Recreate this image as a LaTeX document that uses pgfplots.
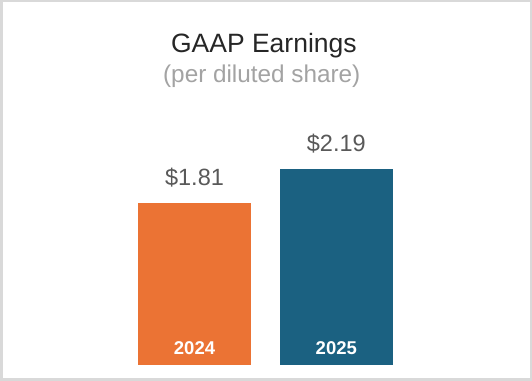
\documentclass[border=0pt]{standalone}
\usepackage{pgfplots}
\pgfplotsset{compat=1.18}
\usepackage{fontspec}
\setmainfont{Liberation Sans}
\definecolor{barorange}{HTML}{EB7334}
\definecolor{barblue}{HTML}{1B6181}
\definecolor{valgray}{HTML}{595959}
\definecolor{subgray}{HTML}{A3A3A3}
\definecolor{titleblack}{HTML}{262626}
\definecolor{framegray}{HTML}{D9D9D9}
\begin{document}
\begin{tikzpicture}
\begin{axis}[
  name=ax,
  scale only axis,
  width=532pt, height=381pt,
  xmin=-1.3717, xmax=2.380,
  ymin=-0.182, ymax=4.075,
  hide axis,
  clip=false,
  ybar,
  bar width=113pt,
  nodes near coords={\$\pgfmathprintnumber[fixed,fixed zerofill,precision=2,assume math mode=true]{\pgfplotspointmeta}},
  every node near coord/.append style={anchor=base, yshift=17pt, text=valgray, font=\fontsize{23.5}{28}\selectfont},
]
\fill[white] (rel axis cs:0,0) rectangle (rel axis cs:1,1);
\draw[framegray, line width=2.5pt] ([shift={(1.25pt,1.25pt)}]rel axis cs:0,0) rectangle ([shift={(-1.25pt,-1.25pt)}]rel axis cs:1,1);
\addplot[fill=barorange, draw=none, bar shift=0pt] coordinates {(0,1.81)};
\addplot[fill=barblue, draw=none, bar shift=0pt] coordinates {(1,2.19)};
\node[anchor=base, text=white, font=\bfseries\fontsize{18.5}{22}\selectfont, yshift=10pt] at (axis cs:0,0) {2024};
\node[anchor=base, text=white, font=\bfseries\fontsize{18.5}{22}\selectfont, yshift=10pt] at (axis cs:1,0) {2025};
\node[anchor=base, text=titleblack, font=\fontsize{26.5}{31}\selectfont] at (rel axis cs:0.496,0.8635) {GAAP Earnings};
\node[anchor=base, text=subgray, font=\fontsize{24.3}{29}\selectfont] at (rel axis cs:0.492,0.7835) {(per diluted share)};
\end{axis}
\pgfresetboundingbox
\useasboundingbox (ax.south west) rectangle (ax.north east);
\end{tikzpicture}
\end{document}
